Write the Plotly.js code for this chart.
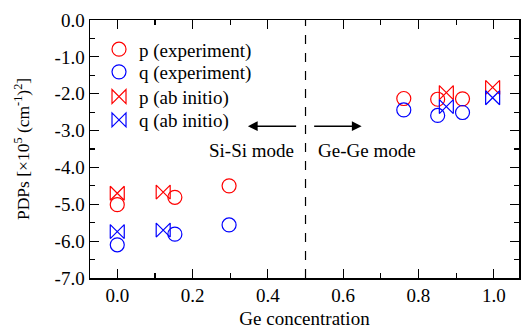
<!DOCTYPE html>
<html>
<head>
<meta charset="utf-8">
<script src="https://cdn.plot.ly/plotly-3.0.1.min.js"></script>
<style>html,body{margin:0;padding:0;background:#fff;}#chart{width:521px;height:331px;}</style>
</head>
<body>
<div id="chart"></div>
<script>
// Data
const pExpX = [0.0, 0.153, 0.297, 0.761, 0.851, 0.917];
const pExpY = [-5.01, -4.81, -4.50, -2.13, -2.15, -2.14];
const qExpX = [0.0, 0.153, 0.297, 0.761, 0.851, 0.917];
const qExpY = [-6.10, -5.81, -5.56, -2.44, -2.59, -2.51];
const pAbX = [0.0, 0.122, 0.874, 0.997];
const pAbY = [-4.70, -4.67, -1.97, -1.83];
const qAbX = [0.0, 0.122, 0.874, 0.997];
const qAbY = [-5.74, -5.70, -2.35, -2.11];

const seriesNames = ["p (experiment)", "q (experiment)", "p (ab initio)", "q (ab initio)"];

const xTickVals = [0.0, 0.2, 0.4, 0.6, 0.8, 1.0];
const xTickText = ["0.0", "0.2", "0.4", "0.6", "0.8", "1.0"];
const yTickVals = [0, -1, -2, -3, -4, -5, -6, -7];
const yTickText = ["0.0", "-1.0", "-2.0", "-3.0", "-4.0", "-5.0", "-6.0", "-7.0"];

const red = "#ff0000", blue = "#0000ff";
const font = {family: "Liberation Serif", size: 19, color: "#000"};
const yTitleFont = {family: "Liberation Serif", size: 17.5, color: "#000"};

function tr(x, y, name, color, symbol, legendId) {
  return {x: x, y: y, name: name, type: "scatter", mode: "markers", legend: legendId,
    marker: {symbol: symbol, size: 14, color: color, line: {color: color, width: 1.2}},
    cliponaxis: false};
}

const data = [
  tr(pExpX, pExpY, seriesNames[0], red, "circle-open", "legend"),
  tr(qExpX, qExpY, seriesNames[1], blue, "circle-open", "legend2"),
  tr(pAbX, pAbY, seriesNames[2], red, "bowtie-open", "legend3"),
  tr(qAbX, qAbY, seriesNames[3], blue, "bowtie-open", "legend4")
];

const axisCommon = {
  showline: true, linecolor: "#000", linewidth: 1.5, mirror: "ticks",
  ticks: "inside", ticklen: 9, tickwidth: 1.2, tickcolor: "#000",
  showgrid: false, zeroline: false, tickfont: font
};

function leg(y) {
  return {x: 0.021, y: y, xanchor: "left", yanchor: "middle", bgcolor: "rgba(0,0,0,0)",
    borderwidth: 0, font: font};
}

const layout = {
  width: 521, height: 331,
  margin: {l: 90, r: 1.5, t: 20, b: 53},
  paper_bgcolor: "#fff", plot_bgcolor: "#fff",
  font: font,
  showlegend: true,
  legend: leg(0.8864),
  legend2: leg(0.7984),
  legend3: leg(0.7027),
  legend4: leg(0.6124),
  xaxis: Object.assign({}, axisCommon, {
    range: [-0.0724, 1.067], tickvals: xTickVals, ticktext: xTickText,
    minor: {dtick: 0.1, tick0: 0, ticks: "inside", ticklen: 5, tickwidth: 1.2, tickcolor: "#000"},
    title: {text: "Ge concentration", font: font, standoff: 6}
  }),
  yaxis: Object.assign({}, axisCommon, {
    range: [-7, 0], tickvals: yTickVals, ticktext: yTickText,
    minor: {dtick: 0.5, tick0: 0, ticks: "inside", ticklen: 5, tickwidth: 1.2, tickcolor: "#000"},
    title: {text: "PDPs [×10<sup>5</sup> (cm<sup>-1</sup>)<sup>2</sup>]", font: yTitleFont, standoff: 20}
  }),
  shapes: [{type: "line", xref: "x", yref: "y", x0: 0.5, x1: 0.5, y0: -7, y1: 0,
    line: {color: "#000", width: 1.2, dash: "dash"}}],
  annotations: [
    {xref: "x", yref: "y", axref: "x", ayref: "y", x: 0.347, y: -2.88, ax: 0.479, ay: -2.88,
      text: "", showarrow: true, arrowhead: 2, arrowsize: 1.3, arrowwidth: 1.5, arrowcolor: "#000"},
    {xref: "x", yref: "y", axref: "x", ayref: "y", x: 0.649, y: -2.88, ax: 0.519, ay: -2.88,
      text: "", showarrow: true, arrowhead: 2, arrowsize: 1.3, arrowwidth: 1.5, arrowcolor: "#000"},
    {xref: "x", yref: "y", x: 0.356, y: -3.53, text: "Si-Si mode", showarrow: false, font: font},
    {xref: "x", yref: "y", x: 0.664, y: -3.53, text: "Ge-Ge mode", showarrow: false, font: font}
  ]
};

Plotly.newPlot("chart", data, layout, {staticPlot: true, displayModeBar: false});
</script>
</body>
</html>
